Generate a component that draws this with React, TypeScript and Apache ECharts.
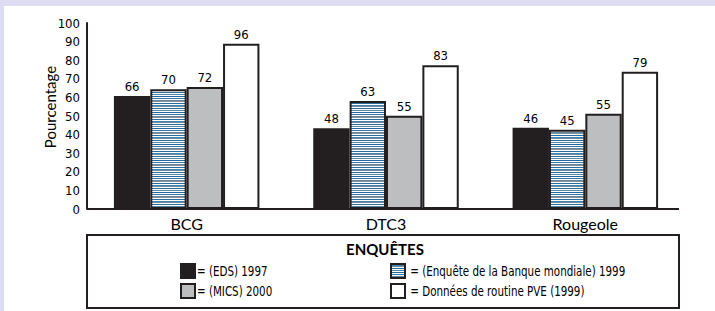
import React, { useEffect, useRef } from "react";
import * as echarts from "echarts";

const categories = ["BCG", "DTC3", "Rougeole"];
const seriesNames = [
  "(EDS) 1997",
  "(Enquête de la Banque mondiale) 1999",
  "(MICS) 2000",
  "Données de routine PVE (1999)",
];
// bar heights as drawn in the picture
const edsHeights = [60.8, 43.4, 43.7];
const banqueHeights = [64.4, 58.1, 42.6];
const micsHeights = [65.6, 50.2, 51.2];
const pveHeights = [88.9, 77.3, 73.8];
// value labels printed above the bars
const edsLabels = [66, 48, 46];
const banqueLabels = [70, 63, 45];
const micsLabels = [72, 55, 55];
const pveLabels = [96, 83, 79];
const yMin = 0;
const yMax = 100;
const yInterval = 10;

const COND = '"DejaVu Sans Condensed", "Liberation Sans Narrow", sans-serif';
const SANS = 'Lato, "Open Sans", sans-serif';
const INK = "#231f20";

function makeStripes(): HTMLCanvasElement {
  const c = document.createElement("canvas");
  const rows = [
    "#25679a", "#ffffff", "#3a78a6", "#ffffff", "#6a859b", "#7d93a6",
    "#ffffff", "#2a6c9e", "#ffffff", "#4a7ea5", "#728ca0", "#ffffff",
    "#2e6d9c", "#ffffff", "#5682a4", "#ffffff",
  ];
  c.width = 4;
  c.height = rows.length;
  const ctx = c.getContext("2d")!;
  rows.forEach((col, i) => {
    ctx.fillStyle = col;
    ctx.fillRect(0, i, 4, 1);
  });
  return c;
}

export default function App() {
  const ref = useRef<HTMLDivElement>(null);
  useEffect(() => {
    document.body.style.margin = "0";
    if (!ref.current) return;
    const chart = echarts.init(ref.current, null, { renderer: "svg" });
    const stripe = { image: makeStripes(), repeat: "repeat" } as any;
    const fills: any[] = [INK, stripe, "#bcbec0", "#ffffff"];
    const heights = [edsHeights, banqueHeights, micsHeights, pveHeights];
    const labels = [edsLabels, banqueLabels, micsLabels, pveLabels];

    const series = seriesNames.map((name, si) => ({
      name,
      type: "bar",
      data: heights[si],
      barGap: "0%",
      barCategoryGap: "27%",
      itemStyle: { color: fills[si], borderColor: INK, borderWidth: 2 },
      label: {
        show: true,
        position: "top",
        distance: 3,
        color: "#000",
        fontFamily: COND,
        fontSize: 13,
        formatter: (p: any) => String(labels[si][p.dataIndex]),
      },
    }));

    const legendRows = [
      { x: 181, y: 271, idx: 0, gap: "= " },
      { x: 391, y: 271, idx: 1, gap: " = " },
      { x: 181, y: 291, idx: 2, gap: "= " },
      { x: 391, y: 291, idx: 3, gap: " = " },
    ];
    const legendEls: any[] = [];
    legendRows.forEach((r) => {
      legendEls.push({
        type: "rect",
        shape: { x: r.x, y: r.y - 7, width: 14, height: 14 },
        style: { fill: fills[r.idx], stroke: INK, lineWidth: 2 },
      });
      legendEls.push({
        type: "text",
        x: r.x + 16,
        y: r.y,
        scaleX: 0.82,
        style: {
          text: r.gap + seriesNames[r.idx],
          fontFamily: COND,
          fontSize: 14,
          fill: "#000",
          verticalAlign: "middle",
          align: "left",
        },
      });
    });

    chart.setOption({
      animation: false,
      backgroundColor: "#dddcf0",
      grid: { left: 87, right: 30, top: 23, bottom: 102, containLabel: false },
      xAxis: {
        type: "category",
        data: categories,
        axisLine: { show: false },
        axisTick: { show: false },
        axisLabel: { color: "#000", fontFamily: SANS, fontSize: 16, margin: 6 },
      },
      yAxis: {
        type: "value",
        min: yMin,
        max: yMax,
        interval: yInterval,
        splitLine: { show: false },
        axisTick: { show: false },
        axisLine: { show: true, lineStyle: { color: INK, width: 2 } },
        axisLabel: { color: "#000", fontFamily: COND, fontSize: 13, margin: 7 },
      },
      series,
      graphic: [
        {
          type: "rect",
          z: -10,
          silent: true,
          shape: { x: 4, y: 6, width: 711, height: 305 },
          style: { fill: "#ffffff" },
        },
        {
          type: "line",
          shape: { x1: 87, y1: 209, x2: 679, y2: 209 },
          style: { stroke: INK, lineWidth: 2 },
        },
        {
          type: "text",
          x: 50,
          y: 107,
          rotation: Math.PI / 2,
          style: {
            text: "Pourcentage",
            fontFamily: SANS,
            fontSize: 15,
            fill: "#000",
            align: "center",
            verticalAlign: "middle",
          },
        },
        {
          type: "rect",
          shape: { x: 87, y: 235, width: 592, height: 73 },
          style: { fill: "#ffffff", stroke: INK, lineWidth: 2 },
        },
        {
          type: "text",
          x: 385,
          y: 249,
          style: {
            text: "ENQUÊTES",
            fontFamily: SANS,
            fontWeight: "bold",
            fontSize: 15,
            fill: "#000",
            align: "center",
            verticalAlign: "middle",
          },
        },
        ...legendEls,
      ],
    });
    return () => chart.dispose();
  }, []);
  return <div ref={ref} style={{ width: 715, height: 311 }} />;
}
